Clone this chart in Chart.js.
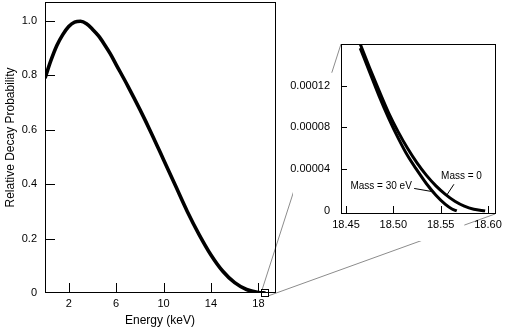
<!DOCTYPE html>
<html>
<head>
<meta charset="utf-8">
<title>Tritium beta spectrum</title>
<script src="https://cdn.jsdelivr.net/npm/chart.js@4.4.1/dist/chart.umd.min.js"></script>
<style>
  html, body { margin: 0; padding: 0; background: #fff; }
  #wrap { position: relative; width: 506px; height: 331px; overflow: hidden; }
  #links { position: absolute; left: 0; top: 0; }
  #main { position: absolute; left: 0; top: 0; }
  #zoom { position: absolute; left: 285px; top: 30px; }
</style>
</head>
<body>
<div id="wrap">
  <canvas id="links" width="506" height="331"></canvas>
  <canvas id="main" width="290" height="331"></canvas>
  <canvas id="zoom" width="221" height="215"></canvas>
</div>
<script>
// full spectrum (keV, relative probability)
const energy = [0, 0.5, 1, 1.5, 2, 2.5, 3, 3.5, 4, 4.5, 5, 5.5, 6, 7, 8, 9, 10, 11, 12, 13, 14, 15, 16, 17, 18, 18.6];
const probability = [0.79, 0.855, 0.91, 0.95, 0.98, 0.996, 0.999, 0.99, 0.97, 0.946, 0.915, 0.88, 0.84, 0.76,
  0.675, 0.585, 0.49, 0.395, 0.30, 0.215, 0.14, 0.08, 0.038, 0.013, 0.002, 0];

// endpoint region, massless neutrino
const endEnergy0 = [18.465, 18.475, 18.485, 18.495, 18.505, 18.515, 18.525, 18.535, 18.545, 18.555, 18.565, 18.575, 18.585, 18.597];
const endProb0 = [0.000160, 0.000137, 0.000115, 0.000094, 0.000076, 0.000060, 0.000046, 0.000034, 0.000024,
  0.0000158, 0.0000092, 0.0000045, 0.0000016, 0];
// endpoint region, 30 eV neutrino
const endEnergy30 = [18.465, 18.475, 18.485, 18.495, 18.505, 18.515, 18.525, 18.535, 18.545, 18.555, 18.562, 18.567];
const endProb30 = [0.000156, 0.000133, 0.000110, 0.000089, 0.000070, 0.000053, 0.000039, 0.000026, 0.000015,
  0.0000062, 0.0000018, 0];

const mainXTicks = [2, 6, 10, 14, 18];
const mainYTicks = [0, 0.2, 0.4, 0.6, 0.8, 1.0];
const zoomXTicks = [18.45, 18.50, 18.55, 18.60];
const zoomYTicks = [0, 0.00004, 0.00008, 0.00012];

const zoomXMin = 18.4447, zoomXMax = 18.6074;

Chart.defaults.font.family = '"Liberation Sans", Arial, Helvetica, sans-serif';
Chart.defaults.font.size = 11;
Chart.defaults.color = '#000';

const toPoints = (xs, ys) => xs.map((x, i) => ({ x: x, y: ys[i] }));

// keep the plot box where afterFit puts it (no extra room for edge labels)
const noEdgePadding = s => {
  s.paddingTop = 0; s.paddingBottom = 0;
  s.paddingLeft = 0; s.paddingRight = 0;
};

// box around the plot plus ticks pointing inwards
const frameTicks = {
  id: 'frameTicks',
  afterDatasetsDraw(chart, args, opts) {
    const { ctx, chartArea: a, scales: { x, y } } = chart;
    ctx.save();
    ctx.strokeStyle = '#000';
    ctx.lineWidth = 1;
    ctx.strokeRect(a.left + 0.5, a.top + 0.5, a.right - a.left, a.bottom - a.top - 1);
    ctx.beginPath();
    x.ticks.forEach(t => {
      const px = Math.round(x.getPixelForValue(t.value)) + 0.5;
      ctx.moveTo(px, a.bottom);
      ctx.lineTo(px, a.bottom - opts.xLen);
    });
    y.ticks.forEach(t => {
      if (t.value === 0) return;
      const py = Math.round(y.getPixelForValue(t.value)) + 0.5;
      ctx.moveTo(a.left, py);
      ctx.lineTo(a.left + opts.yLen, py);
    });
    ctx.stroke();
    // little square marking the magnified region
    if (opts.marker) {
      const cx = Math.round(x.getPixelForValue((zoomXMin + zoomXMax) / 2));
      const cy = Math.round(y.getPixelForValue(0));
      ctx.strokeRect(cx - 3.5, cy - 3.5, 7, 7);
    }
    ctx.restore();
  }
};

// vertical axis title, sitting a little above the middle of the box
const sideTitle = {
  id: 'sideTitle',
  afterDraw(chart, args, opts) {
    const { ctx, chartArea: a } = chart;
    ctx.save();
    ctx.translate(11, (a.top + a.bottom) / 2 - 10);
    ctx.rotate(-Math.PI / 2);
    ctx.font = '12px "Liberation Sans", Arial, sans-serif';
    ctx.fillStyle = '#000';
    ctx.textAlign = 'center';
    ctx.textBaseline = 'middle';
    ctx.fillText(opts.text, 0, 0);
    ctx.restore();
  }
};

const mainChart = new Chart(document.getElementById('main'), {
  type: 'line',
  data: {
    datasets: [{
      data: toPoints(energy, probability),
      borderColor: '#000',
      borderWidth: 3.6,
      pointRadius: 0,
      fill: false,
      cubicInterpolationMode: 'monotone'
    }]
  },
  options: {
    responsive: false,
    animation: false,
    events: [],
    layout: { padding: { top: 2, right: 15, left: 0, bottom: 0 } },
    plugins: {
      legend: { display: false },
      tooltip: { enabled: false },
      frameTicks: { xLen: 10, yLen: 10, marker: true },
      sideTitle: { text: 'Relative Decay Probability' }
    },
    scales: {
      x: {
        type: 'linear', min: 0, max: 19.4,
        grid: { display: false, drawTicks: false },
        border: { display: false },
        afterBuildTicks: s => { s.ticks = mainXTicks.map(v => ({ value: v })); },
        afterFit: s => { s.height = 38; noEdgePadding(s); },
        ticks: { padding: 4, maxRotation: 0, autoSkip: false, callback: v => String(v) },
        title: { display: true, text: 'Energy (keV)', font: { size: 12 }, padding: { top: 0, bottom: 3 } }
      },
      y: {
        type: 'linear', min: 0, max: 1.07,
        grid: { display: false, drawTicks: false },
        border: { display: false },
        afterBuildTicks: s => { s.ticks = mainYTicks.map(v => ({ value: v })); },
        afterFit: s => { s.width = 45; noEdgePadding(s); },
        ticks: { padding: 8, autoSkip: false, callback: v => v === 0 ? '0' : v.toFixed(1) }
      }
    }
  },
  plugins: [frameTicks, sideTitle]
});

// white backing behind the inset labels, so the guide lines pass under them
const insetBacking = {
  id: 'insetBacking',
  beforeDraw(chart) {
    const { ctx, scales: { x, y } } = chart;
    const left = y.left + 8;
    const top = y.getPixelForValue(0.00012) - 13;
    const right = x.getPixelForValue((18.55 + 18.60) / 2);
    const bottom = x.bottom - 4;
    ctx.save();
    ctx.fillStyle = '#fff';
    ctx.fillRect(left, top, right - left, bottom - top);
    ctx.restore();
  }
};

// "Mass = ..." labels with leader lines
const massNotes = {
  id: 'massNotes',
  afterDatasetsDraw(chart) {
    const { ctx, scales: { x, y } } = chart;
    const notes = [
      { text: 'Mass = 0', at: [18.572, 0.000033], align: 'center', from: [18.564, 0.0000255], to: [18.556, 0.0000145] },
      { text: 'Mass = 30 eV', at: [18.5195, 0.0000235], align: 'right', from: [18.522, 0.0000215], to: [18.541, 0.0000185] }
    ];
    ctx.save();
    ctx.font = '10px "Liberation Sans", Arial, sans-serif';
    ctx.fillStyle = '#000';
    ctx.strokeStyle = '#000';
    ctx.lineWidth = 1;
    ctx.textBaseline = 'middle';
    notes.forEach(n => {
      ctx.textAlign = n.align;
      ctx.fillText(n.text, x.getPixelForValue(n.at[0]), y.getPixelForValue(n.at[1]));
      ctx.beginPath();
      ctx.moveTo(x.getPixelForValue(n.from[0]), y.getPixelForValue(n.from[1]));
      ctx.lineTo(x.getPixelForValue(n.to[0]), y.getPixelForValue(n.to[1]));
      ctx.stroke();
    });
    ctx.restore();
  }
};

const zoomChart = new Chart(document.getElementById('zoom'), {
  type: 'line',
  data: {
    datasets: [{
      label: 'Mass = 0',
      data: toPoints(endEnergy0, endProb0),
      borderColor: '#000',
      borderWidth: 3,
      pointRadius: 0,
      fill: false,
      clip: 0,
      cubicInterpolationMode: 'monotone'
    }, {
      label: 'Mass = 30 eV',
      data: toPoints(endEnergy30, endProb30),
      borderColor: '#000',
      borderWidth: 3,
      pointRadius: 0,
      fill: false,
      clip: 0,
      cubicInterpolationMode: 'monotone'
    }]
  },
  options: {
    responsive: false,
    animation: false,
    events: [],
    layout: { padding: { top: 14, right: 11, left: 0, bottom: 0 } },
    plugins: {
      legend: { display: false },
      tooltip: { enabled: false },
      frameTicks: { xLen: 8, yLen: 6, marker: false }
    },
    scales: {
      x: {
        type: 'linear', min: zoomXMin, max: zoomXMax,
        grid: { display: false, drawTicks: false },
        border: { display: false },
        afterBuildTicks: s => { s.ticks = zoomXTicks.map(v => ({ value: v })); },
        afterFit: s => { s.height = 31; noEdgePadding(s); },
        ticks: { padding: 4, maxRotation: 0, autoSkip: false, callback: v => v.toFixed(2) }
      },
      y: {
        type: 'linear', min: -0.000003, max: 0.00016,
        grid: { display: false, drawTicks: false },
        border: { display: false },
        afterBuildTicks: s => { s.ticks = zoomYTicks.map(v => ({ value: v })); },
        afterFit: s => { s.width = 56; noEdgePadding(s); },
        ticks: { padding: 11, autoSkip: false, callback: v => v === 0 ? '0' : v.toFixed(5) }
      }
    }
  },
  plugins: [insetBacking, massNotes, frameTicks]
});

// guide lines from the square on the main plot to the inset corners
(function drawLinks() {
  const ctx = document.getElementById('links').getContext('2d');
  const mx = mainChart.scales.x, my = mainChart.scales.y;
  const cx = Math.round(mx.getPixelForValue((zoomXMin + zoomXMax) / 2));
  const cy = Math.round(my.getPixelForValue(0));
  const za = zoomChart.chartArea;
  const zLeft = 285, zTop = 30;
  ctx.strokeStyle = '#8c8c8c';
  ctx.lineWidth = 1;
  ctx.beginPath();
  ctx.moveTo(cx - 3, cy - 3);
  ctx.lineTo(zLeft + za.left, zTop + za.top);
  ctx.moveTo(cx + 3, cy + 3);
  ctx.lineTo(zLeft + za.right, zTop + za.bottom);
  ctx.stroke();
})();
</script>
</body>
</html>
